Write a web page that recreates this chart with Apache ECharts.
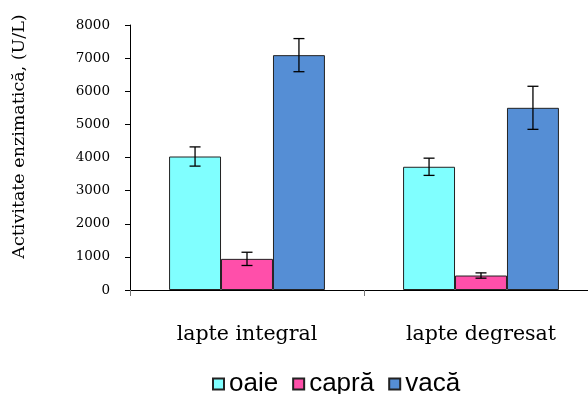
<!DOCTYPE html>
<html><head><meta charset="utf-8">
<script src="https://cdn.jsdelivr.net/npm/echarts@6/dist/echarts.min.js"></script>
<style>html,body{margin:0;padding:0;background:#fff}#c{width:588px;height:394px}</style>
</head><body><div id="c"></div>
<script>
const categories = ['lapte integral', 'lapte degresat'];
const seriesNames = ['oaie', 'capră', 'vacă'];
const oaie = [4030, 3720];
const capra = [940, 437];
const vaca = [7090, 5500];
const oaieErr = [290, 260];
const capraErr = [200, 80];
const vacaErr = [500, 650];
const yTicks = [0, 1000, 2000, 3000, 4000, 5000, 6000, 7000, 8000];

const colors = ['#80FFFF', '#FF4FAA', '#558ED5'];
const values = [oaie, capra, vaca];
const errs = [oaieErr, capraErr, vacaErr];
const BAR_FRAC = 0.222;

const chart = echarts.init(document.getElementById('c'));
const series = [];
seriesNames.forEach((n, i) => {
  series.push({
    name: n, type: 'bar', data: values[i], barWidth: (BAR_FRAC * 100) + '%', barGap: '0%',
    itemStyle: { color: colors[i], borderColor: '#222', borderWidth: 1 }
  });
});
seriesNames.forEach((n, i) => {
  series.push({
    type: 'custom', silent: true, z: 10,
    data: values[i].map((v, k) => [k, v - errs[i][k], v + errs[i][k]]),
    renderItem: function (params, api) {
      const k = api.value(0);
      const lo = api.coord([k, api.value(1)]);
      const hi = api.coord([k, api.value(2)]);
      const bw = api.size([1, 0])[0] * BAR_FRAC;
      const x = lo[0] + (i - 1) * bw;
      const h = 5.5;
      const st = { stroke: '#000', lineWidth: 1.3 };
      return { type: 'group', children: [
        { type: 'line', shape: { x1: x, y1: lo[1], x2: x, y2: hi[1] }, style: st },
        { type: 'line', shape: { x1: x - h, y1: lo[1], x2: x + h, y2: lo[1] }, style: st },
        { type: 'line', shape: { x1: x - h, y1: hi[1], x2: x + h, y2: hi[1] }, style: st }
      ]};
    }
  });
});

chart.setOption({
  animation: false,
  backgroundColor: '#fff',
  grid: { left: 130, width: 468, top: 25, bottom: 104, containLabel: false, outerBoundsMode: 'none' },
  legend: {
    data: seriesNames, top: 371, left: 212, itemWidth: 11, itemHeight: 11, itemGap: 14,
    icon: 'rect', padding: 0,
    textStyle: { fontFamily: 'Liberation Sans', fontSize: 26, color: '#000' }
  },
  xAxis: {
    type: 'category', data: categories,
    axisLine: { lineStyle: { color: '#000', width: 1 } },
    axisTick: { show: true, length: 6, lineStyle: { color: '#777' } },
    axisLabel: { margin: 34, fontFamily: 'DejaVu Serif', fontSize: 20.5, color: '#000' }
  },
  yAxis: {
    type: 'value', min: 0, max: 8000, interval: 1000,
    name: 'Activitate enzimatică, (U/L)', nameLocation: 'middle', nameGap: 102,
    nameTextStyle: { fontFamily: 'DejaVu Serif', fontSize: 17.5, color: '#000', padding: [0, 0, 0, 42] },
    axisLine: { show: true, lineStyle: { color: '#000', width: 1 } },
    axisTick: { show: true, length: 5, lineStyle: { color: '#000' } },
    splitLine: { show: false },
    axisLabel: { margin: 20, fontFamily: 'DejaVu Serif', fontSize: 13.5, color: '#000',
      formatter: v => yTicks.includes(v) ? String(v) : '' }
  },
  series: series
});
</script></body></html>
